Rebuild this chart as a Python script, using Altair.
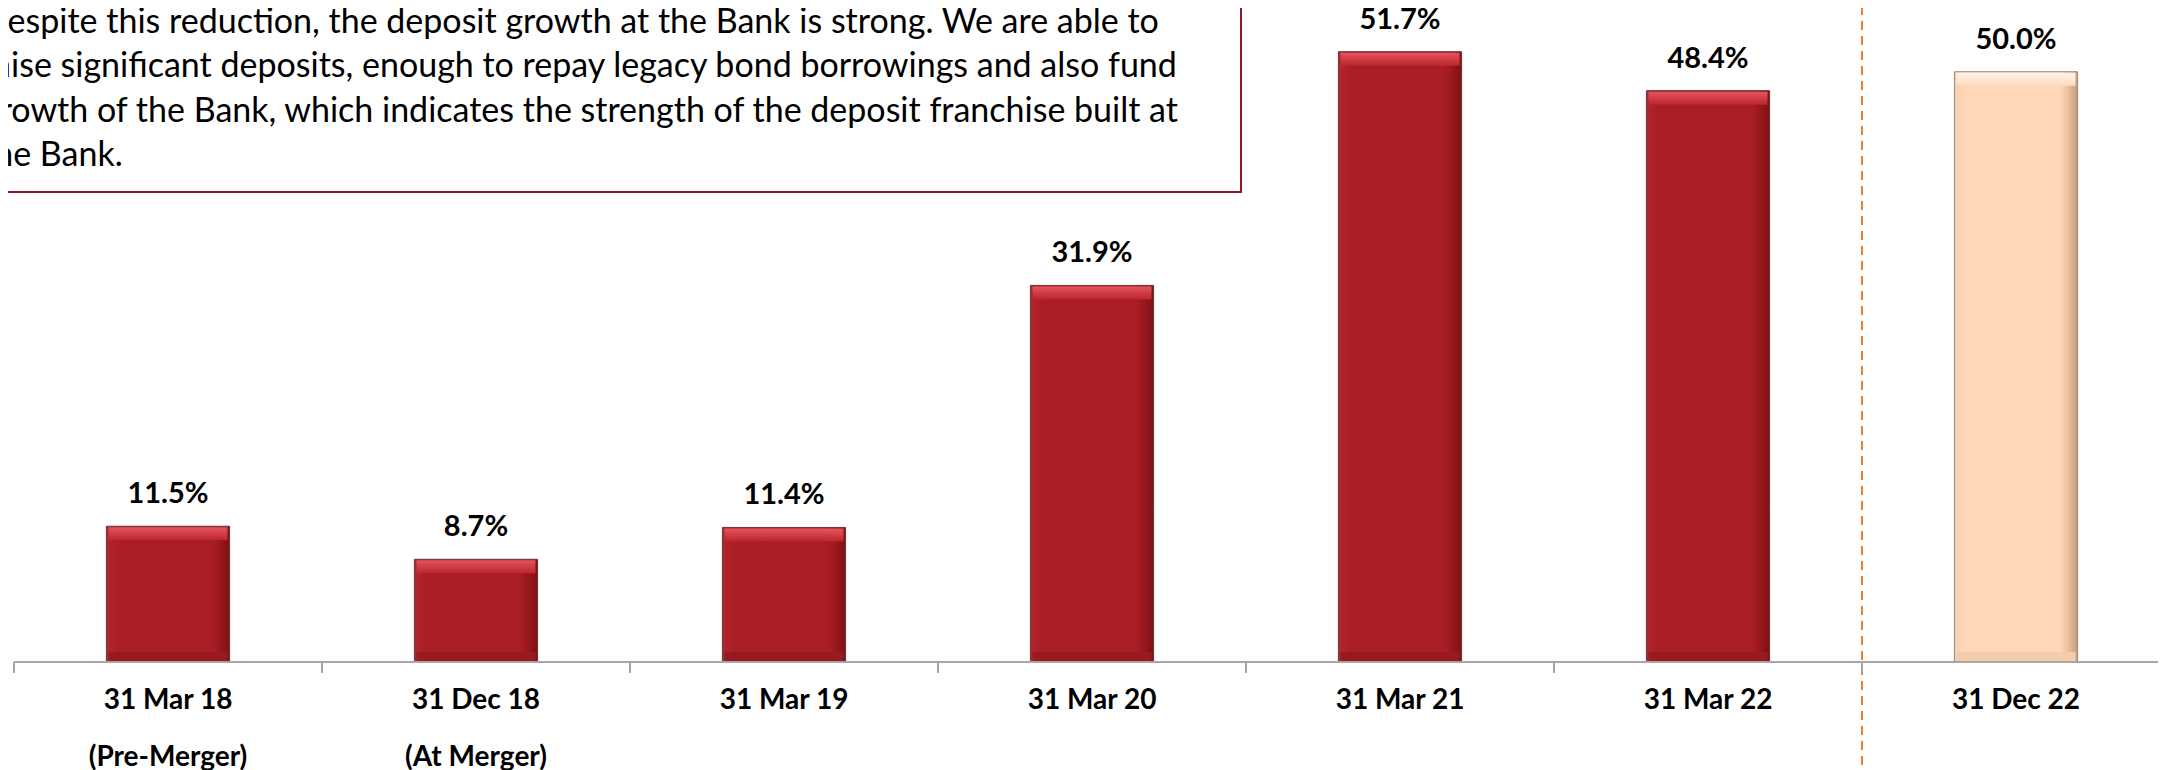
import altair as alt
import pandas as pd

categories = ["31 Mar 18", "31 Dec 18", "31 Mar 19", "31 Mar 20", "31 Mar 21", "31 Mar 22", "31 Dec 22"]
subtitles = ["(Pre-Merger)", "(At Merger)", "", "", "", "", ""]
values = [11.5, 8.7, 11.4, 31.9, 51.7, 48.4, 50.0]
kinds = ["actual", "actual", "actual", "actual", "actual", "actual", "latest"]
note_lines = [
    "Despite this reduction, the deposit growth at the Bank is strong. We are able to",
    "raise significant deposits, enough to repay legacy bond borrowings and also fund",
    "growth of the Bank, which indicates the strength of the deposit franchise built at",
    "the Bank.",
]

df = pd.DataFrame({
    "label": [c + "|" + s for c, s in zip(categories, subtitles)],
    "value": values,
    "kind": kinds,
})
df["text"] = df["value"].map(lambda v: f"{v:.1f}%")

FONT = "Lato"
cat_order = list(df["label"])
xscale = alt.Scale(range=[0, 2156], paddingInner=0.6, paddingOuter=0.3)

x = alt.X(
    "label:N",
    sort=cat_order,
    scale=xscale,
    axis=alt.Axis(
        title=None,
        labelExpr="split(datum.label, '|')",
        labelFont=FONT,
        labelFontSize=28,
        labelFontWeight="bold",
        labelColor="#000000",
        labelAngle=0,
        labelBaseline="top",
        labelLineHeight=57,
        labelPadding=24,
        bandPosition=0.5,
        ticks=False,
        tickSize=0,
        domain=False,
        grid=False,
    ),
)
x_plain = alt.X("label:N", sort=cat_order, scale=xscale)
y = alt.Y("value:Q", scale=alt.Scale(domain=[0, 55.4]), axis=None)

base = alt.Chart(df)
actual = base.transform_filter(alt.datum.kind == "actual")
latest = base.transform_filter(alt.datum.kind == "latest")


def hgrad(c_left, c_mid, c_right_in, c_right):
    return alt.Gradient(
        gradient="linear", x1=0, x2=1, y1=0, y2=0,
        stops=[
            alt.GradientStop(offset=0, color=c_left),
            alt.GradientStop(offset=0.1, color=c_mid),
            alt.GradientStop(offset=0.86, color=c_mid),
            alt.GradientStop(offset=0.93, color=c_right_in),
            alt.GradientStop(offset=1, color=c_right),
        ],
    )


def vgrad(c_top, c_bottom):
    return alt.Gradient(
        gradient="linear", x1=0, x2=0, y1=0, y2=1,
        stops=[
            alt.GradientStop(offset=0, color=c_top),
            alt.GradientStop(offset=1, color=c_bottom),
        ],
    )


red_bars = actual.mark_bar(
    color=hgrad("#B3262D", "#A91D24", "#96171D", "#7A1015"),
    stroke="#6B3636", strokeWidth=1,
).encode(x=x, y=y)
peach_bars = latest.mark_bar(
    color=hgrad("#F7CFB0", "#FDD7B8", "#E9BE9C", "#C49A7A"),
    stroke="#9C8878", strokeWidth=1,
).encode(x=x, y=y)

red_caps = actual.mark_tick(
    color=vgrad("#E4555C", "#BC262D"), thickness=13, size=119, yOffset=7.5,
    opacity=1, orient="horizontal",
).encode(x=x, y=y)
peach_caps = latest.mark_tick(
    color=vgrad("#FFF3E6", "#FDDCC0"), thickness=13, size=119, yOffset=7.5,
    opacity=1, orient="horizontal",
).encode(x=x, y=y)

red_feet = actual.mark_tick(
    color="#991A20", thickness=9, size=119, opacity=1, orient="horizontal",
).encode(x=x, y=alt.value(648.5))
peach_feet = latest.mark_tick(
    color="#F3CCAC", thickness=9, size=119, opacity=1, orient="horizontal",
).encode(x=x, y=alt.value(648.5))

labels = base.mark_text(
    font=FONT, fontSize=29, fontWeight="bold", color="#000000",
    baseline="middle", dy=-32,
).encode(x=x, y=y, text="text:N")

baseline = alt.Chart(alt.Data(values=[{"v": 0}])).mark_rule(
    color="#A6A6A6", strokeWidth=2
).encode(x=alt.value(0), x2=alt.value(2170), y=alt.value(654))

# ticks at the boundaries between categories (half a step left of each centre)
ticks = base.mark_rule(color="#A6A6A6", strokeWidth=2, xOffset=-154).encode(
    x=x_plain,
    y=alt.value(654),
    y2=alt.value(665),
)

divider = alt.Chart(pd.DataFrame({"label": [cat_order[-1]]})).mark_rule(
    color="#ED7D31", strokeWidth=2, strokeDash=[9, 6], xOffset=-154
).encode(
    x=x_plain,
    y=alt.value(-2),
    y2=alt.value(770),
)

note_box = alt.Chart(alt.Data(values=[{"v": 0}])).mark_rect(
    fill="#FFFFFF", stroke="#8C1B1F", strokeWidth=2
).encode(
    x=alt.value(-40), x2=alt.value(1227), y=alt.value(-30), y2=alt.value(184)
)
note_text = alt.Chart(alt.Data(values=[{"v": 0}])).mark_text(
    font=FONT, fontSize=34, color="#000000", align="left", baseline="top",
    lineHeight=44.3,
).encode(x=alt.value(-32), y=alt.value(-2), text=alt.value(note_lines))

chart = alt.layer(
    red_bars, peach_bars, red_feet, peach_feet, red_caps, peach_caps, labels,
    divider, baseline, ticks, note_box, note_text
).properties(
    width=2144,
    height=654,
    autosize=alt.AutoSizeParams(type="none"),
    padding={"left": 6, "top": 0, "right": 0, "bottom": 108},
).configure_view(stroke=None)

chart.save("out.html", embed_options={"renderer": "svg", "actions": False})
